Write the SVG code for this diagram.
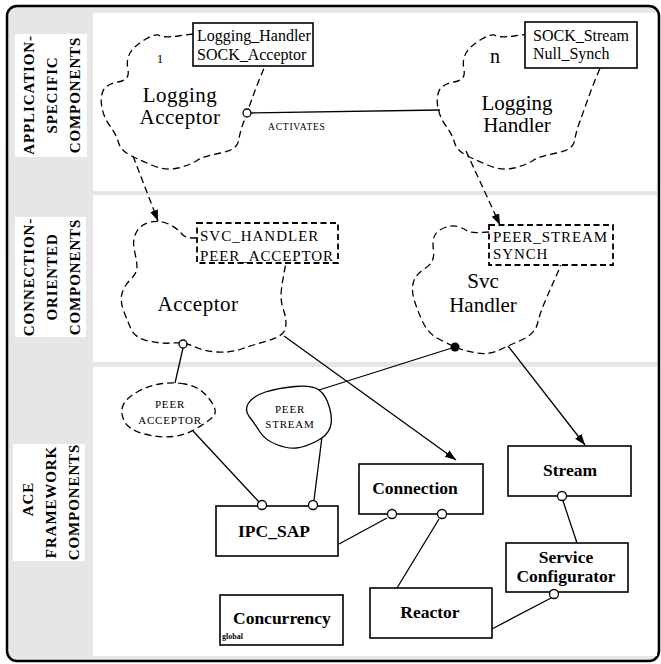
<svg xmlns="http://www.w3.org/2000/svg" width="661" height="664" viewBox="0 0 661 664">
<style>
.serif{font-family:"Liberation Serif","Times New Roman",serif;fill:#000}
.lbl{font-family:"Liberation Serif","Times New Roman",serif;font-weight:bold;font-size:15px;letter-spacing:0.9px;text-anchor:middle}
.cloud{fill:none;stroke:#000;stroke-width:1.3;stroke-dasharray:7 4}
.box{fill:#fff;stroke:#000;stroke-width:1.6}
.dbox{fill:#fff;stroke:#000;stroke-width:1.8;stroke-dasharray:6 3.5}
.bt{font-family:"Liberation Serif","Times New Roman",serif;font-weight:bold;font-size:17.5px;text-anchor:middle}
.ln{stroke:#000;stroke-width:1.3;fill:none}
.pin{fill:#fff;stroke:#000;stroke-width:1.3}
</style>
<defs>
<marker id="arr" markerUnits="userSpaceOnUse" markerWidth="12" markerHeight="10" refX="11" refY="4" orient="auto">
<path d="M0,0 L11,4 L0,8 Z" fill="#000"/>
</marker>
</defs>
<rect x="7" y="6" width="652" height="655" rx="10" fill="#e6e6e6" stroke="#000" stroke-width="2.5"/>
<rect x="93" y="13" width="564" height="178" fill="#fff"/>
<rect x="93" y="195" width="564" height="167" fill="#fff"/>
<rect x="93" y="367" width="564" height="289" fill="#fff"/>
<g id="band-labels">
<rect x="15" y="34" width="72" height="123" fill="#fff"/>
<text class="lbl" transform="translate(34,95) rotate(-90)">APPLICATION-</text>
<text class="lbl" transform="translate(57,95) rotate(-90)">SPECIFIC</text>
<text class="lbl" transform="translate(80,95) rotate(-90)">COMPONENTS</text>
<rect x="15" y="217" width="71" height="120" fill="#fff"/>
<text class="lbl" transform="translate(34,277) rotate(-90)">CONNECTION-</text>
<text class="lbl" transform="translate(57,277) rotate(-90)">ORIENTED</text>
<text class="lbl" transform="translate(80,277) rotate(-90)">COMPONENTS</text>
<rect x="13" y="444" width="72" height="117" fill="#fff"/>
<text class="lbl" transform="translate(33,499) rotate(-90)">ACE</text>
<text class="lbl" transform="translate(56,502) rotate(-90)">FRAMEWORK</text>
<text class="lbl" transform="translate(79,502) rotate(-90)">COMPONENTS</text>
</g>
<g id="connectors">
<line class="ln" x1="251" y1="113" x2="440" y2="110" stroke-width="1.8"/>
<text class="serif" x="268" y="130" font-size="9.5" letter-spacing="0.8">ACTIVATES</text>
<line class="ln" x1="133" y1="156" x2="158" y2="221" stroke-dasharray="7 4" marker-end="url(#arr)"/>
<line class="ln" x1="466" y1="151" x2="500" y2="225" stroke-dasharray="7 4" marker-end="url(#arr)"/>
<line class="ln" x1="284" y1="336" x2="456" y2="460" marker-end="url(#arr)"/>
<line class="ln" x1="508" y1="346" x2="585" y2="445" marker-end="url(#arr)"/>
<line class="ln" x1="183" y1="348" x2="175" y2="383"/>
<line class="ln" x1="455" y1="347" x2="319" y2="390"/>
<line class="ln" x1="193" y1="431" x2="259" y2="502"/>
<line class="ln" x1="322" y1="437" x2="314" y2="500"/>
<line class="ln" x1="339" y1="544" x2="387" y2="518"/>
<line class="ln" x1="439" y1="519" x2="397" y2="588"/>
<line class="ln" x1="563" y1="501" x2="577" y2="543"/>
<line class="ln" x1="492" y1="629" x2="551" y2="598"/>
</g>
<g id="logging-acceptor">
<path class="cloud" d="M193,34 L178,36 Q163,38 159.5,35.5 Q156,33 145,39.5 Q134,46 130,53 Q126,60 128,70 Q130,80 118,82 Q106,84 103,91 Q100,98 102,108 Q104,118 110,126 Q116,134 118.5,142.5 Q121,151 131.5,156 Q142,161 154,166 Q166,171 178,168 Q190,165 197,160.5 Q204,156 220.5,153 Q237,150 238.5,141 Q240,132 243.5,122.5 Q247,113 251,101.5 Q255,90 260,78 L265,66"/>
<rect class="box" x="193" y="23" width="120" height="43"/>
<text class="serif" x="197" y="41" font-size="16">Logging_Handler</text>
<text class="serif" x="197" y="60" font-size="16">SOCK_Acceptor</text>
<text class="serif" x="160" y="63" font-size="13" text-anchor="middle">1</text>
<text class="serif" x="180" y="102" font-size="21" text-anchor="middle" letter-spacing="0.5">Logging</text>
<text class="serif" x="180" y="124" font-size="21" text-anchor="middle" letter-spacing="0.5">Acceptor</text>
<circle class="pin" cx="247" cy="113" r="4"/>
</g>
<g id="logging-handler">
<path class="cloud" transform="translate(336,0)" d="M193,34 L178,36 Q163,38 159.5,35.5 Q156,33 145,39.5 Q134,46 130,53 Q126,60 128,70 Q130,80 118,82 Q106,84 103,91 Q100,98 102,108 Q104,118 110,126 Q116,134 118.5,142.5 Q121,151 131.5,156 Q142,161 154,166 Q166,171 178,168 Q190,165 197,160.5 Q204,156 220.5,153 Q237,150 238.5,141 Q240,132 243.5,122.5 Q247,113 251,101.5 Q255,90 260,78 L265,66"/>
<rect class="box" x="525" y="22" width="112" height="46"/>
<text class="serif" x="533" y="41" font-size="16">SOCK_Stream</text>
<text class="serif" x="533" y="59" font-size="16">Null_Synch</text>
<text class="serif" x="495" y="63" font-size="20" text-anchor="middle">n</text>
<text class="serif" x="517" y="110" font-size="21" text-anchor="middle">Logging</text>
<text class="serif" x="517" y="132" font-size="21" text-anchor="middle">Handler</text>
</g>
<g id="acceptor">
<path class="cloud" d="M197,238 L191,238 Q185,238 181,233 Q177,228 168.5,224 Q160,220 150.5,222 Q141,224 136.5,232 Q132,240 134.5,251 Q137,262 137,267.5 Q137,273 130.5,279.5 Q124,286 122,293.5 Q120,301 123.5,310.5 Q127,320 131,329 Q135,338 148.5,341 Q162,344 173,343 Q184,342 194,346.5 Q204,351 217,352 Q230,353 241.5,349 Q253,345 268.5,340.5 Q284,336 285.5,328 Q287,320 283.5,310 Q280,300 281.5,289 Q283,278 284.5,270.5 L286,263"/>
<rect class="dbox" x="197" y="223" width="141" height="40"/>
<text class="serif" x="200" y="241" font-size="15" letter-spacing="1">SVC_HANDLER</text>
<text class="serif" x="200" y="261" font-size="15" letter-spacing="0.9">PEER_ACCEPTOR</text>
<text class="serif" x="198" y="311" font-size="21" text-anchor="middle" letter-spacing="0.5">Acceptor</text>
<circle class="pin" cx="183" cy="344" r="4"/>
</g>
<g id="svc-handler">
<path class="cloud" d="M489,232 L479.5,232.5 Q470,233 466.5,230.5 Q463,228 457.5,226.5 Q452,225 445,227.5 Q438,230 435,235 Q432,240 433.5,251 Q435,262 425.5,268 Q416,274 413.5,282 Q411,290 414.5,301 Q418,312 423,322.5 Q428,333 438,338.5 Q448,344 456.5,347.5 Q465,351 476.5,353 Q488,355 498,350.5 Q508,346 521.5,340 Q535,334 537.5,323.5 Q540,313 545,301.5 Q550,290 553.5,282 Q557,274 559,269.5 L561,264"/>
<rect class="dbox" x="489" y="225" width="124" height="40"/>
<text class="serif" x="493" y="242" font-size="15" letter-spacing="0.9">PEER_STREAM</text>
<text class="serif" x="493" y="259" font-size="15" letter-spacing="0.9">SYNCH</text>
<text class="serif" x="483" y="288" font-size="21" text-anchor="middle">Svc</text>
<text class="serif" x="483" y="312" font-size="21" text-anchor="middle">Handler</text>
<circle cx="455" cy="347" r="4.5" fill="#000"/>
</g>
<g id="peer-acceptor">
<path class="cloud" d="M185,384 Q175,382 162.5,383.5 Q150,385 138,391.5 Q126,398 123,405.5 Q120,413 124.5,421.5 Q129,430 144.5,434 Q160,438 173,436.5 Q186,435 196.5,428.5 Q207,422 212.5,417.5 Q218,413 213,404.5 Q208,396 201.5,391 Q195,386 185,384 Z"/>
<text class="serif" x="170" y="408" font-size="11" text-anchor="middle" letter-spacing="0.8">PEER</text>
<text class="serif" x="170" y="424" font-size="11" text-anchor="middle" letter-spacing="0.8">ACCEPTOR</text>
</g>
<g id="peer-stream">
<path d="M295,386.5 Q312,385 319,390 Q326,395 329.5,407.5 Q333,420 330,428 Q327,436 316,441.5 Q305,447 296.5,448 Q288,449 276.5,444.5 Q265,440 260,432 Q255,424 249.5,417 Q244,410 248.5,403 Q253,396 265.5,392 Q278,388 295,386.5 Z" fill="#fff" stroke="#000" stroke-width="1.3"/>
<text class="serif" x="290" y="413" font-size="11" text-anchor="middle" letter-spacing="0.8">PEER</text>
<text class="serif" x="290" y="428" font-size="11" text-anchor="middle" letter-spacing="0.8">STREAM</text>
</g>
<g id="ipc-sap">
<rect class="box" x="216" y="506" width="122" height="50"/>
<text class="bt" x="274" y="537">IPC_SAP</text>
<circle class="pin" cx="262" cy="505" r="4.5"/>
<circle class="pin" cx="313" cy="505" r="4.5"/>
</g>
<g id="concurrency">
<rect class="box" x="220" y="595" width="123" height="50"/>
<text class="serif" x="233" y="624" font-size="17.5" font-weight="bold">Concurrency</text>
<text class="serif" x="222" y="639" font-size="8" font-weight="bold">global</text>
</g>
<g id="connection">
<rect class="box" x="359" y="464" width="124" height="50"/>
<text class="bt" x="415" y="494">Connection</text>
<circle class="pin" cx="392" cy="514" r="4.5"/>
<circle class="pin" cx="442" cy="514" r="4.5"/>
</g>
<g id="reactor">
<rect class="box" x="370" y="588" width="122" height="50"/>
<text class="bt" x="430" y="618">Reactor</text>
</g>
<g id="stream">
<rect class="box" x="508" y="446" width="123" height="50"/>
<text class="bt" x="570" y="476">Stream</text>
<circle class="pin" cx="562" cy="496" r="4.5"/>
</g>
<g id="service-configurator">
<rect class="box" x="506" y="543" width="122" height="49"/>
<text class="bt" x="566" y="563">Service</text>
<text class="bt" x="566" y="582">Configurator</text>
<circle class="pin" cx="554" cy="594" r="4.5"/>
</g>
</svg>
